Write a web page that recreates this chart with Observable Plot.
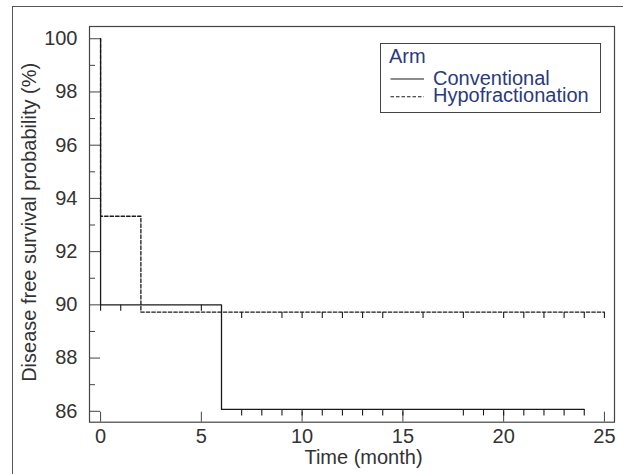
<!DOCTYPE html>
<html><head><meta charset="utf-8">
<script src="https://cdn.jsdelivr.net/npm/d3@7"></script>
<script src="https://cdn.jsdelivr.net/npm/@observablehq/plot@0.6"></script>
<style>
html,body{margin:0;padding:0;background:#fff;}
#wrap{position:relative;width:623px;height:474px;overflow:hidden;background:#fff;}
#chart{position:absolute;left:0;top:0;}
#outer{position:absolute;left:12px;top:6px;width:700px;height:600px;border-left:1px solid #555;border-top:1px solid #555;box-sizing:border-box;pointer-events:none;}
</style></head><body>
<div id="wrap"><div id="chart"></div><div id="outer"></div></div>
<script>
// ---- data ----
const seriesNames = ["Conventional", "Hypofractionation"];
const legendTitle = "Arm";
const xLabel = "Time (month)";
const yLabel = "Disease free survival probability (%)";
const xTicks = [0, 5, 10, 15, 20, 25];
const yMajorTicks = [86, 88, 90, 92, 94, 96, 98, 100];
const yMinorTicks = [87, 89, 91, 93, 95, 97, 99];

const convTimes = [0, 0, 6, 24];
const convSurv = [100, 90, 86.07, 86.07];
const convCensorTimes = [0, 1, 5, 7, 8, 9, 10, 11, 12, 13, 14, 15, 18, 19, 20, 21, 22, 23, 24];

const hypoTimes = [0, 0, 2, 25];
const hypoSurv = [100, 93.33, 89.73, 89.73];
const hypoCensorTimes = [7, 9, 10, 11, 12, 13, 14, 16, 18, 20, 21, 22, 23, 24, 25];

// ---- build tables ----
function curve(times, surv, arm) { return times.map((t, i) => ({t, s: surv[i], arm})); }
function survAt(times, surv, t) { let s = surv[0]; times.forEach((tt, i) => { if (tt <= t) s = surv[i]; }); return s; }
const convData = curve(convTimes, convSurv, seriesNames[0]);
const hypoData = curve(hypoTimes, hypoSurv, seriesNames[1]);
const censors = [
  ...convCensorTimes.map(t => ({t, s: survAt(convTimes, convSurv, t)})),
  ...hypoCensorTimes.map(t => ({t, s: survAt(hypoTimes, hypoSurv, t)}))
];

const W = 623, H = 474, mL = 89, mR = 9, mT = 26, mB = 52.3;
const plotW = W - mL - mR, plotH = H - mT - mB;
const ink = "#1a1a1a", axisInk = "#444", textInk = "#333";
const dash = "3.5,2";
const censorSymbol = {draw(ctx) { ctx.moveTo(0, 0); ctx.lineTo(0, 6); }};
const fontFam = "'Liberation Sans', Arial, sans-serif";

const chart = Plot.plot({
  width: W, height: H,
  marginLeft: mL, marginRight: mR, marginTop: mT, marginBottom: mB,
  x: {domain: [-0.55, 25.5]},
  y: {domain: [85.59, 100.46]},
  style: {fontFamily: fontFam, fontSize: "20px", color: textInk, background: "transparent"},
  marks: [
    Plot.tickY(yMajorTicks, {y: d => d, insetRight: plotW - 11, stroke: axisInk}),
    Plot.tickY(yMinorTicks, {y: d => d, insetRight: plotW - 6, stroke: axisInk}),
    Plot.tickX(xTicks, {x: d => d, insetTop: plotH - 10, stroke: axisInk}),
    Plot.axisY({ticks: yMajorTicks, tickSize: 0, tickPadding: 12, label: null, fill: textInk}),
    Plot.axisX({ticks: xTicks, tickSize: 0, tickPadding: 7, label: null, fill: textInk}),
    Plot.text([yLabel], {text: d => d, frameAnchor: "left", rotate: -90, textAnchor: "middle", lineAnchor: "middle", dx: -60, dy: -2, fill: textInk}),
    Plot.text([xLabel], {text: d => d, frameAnchor: "bottom", textAnchor: "middle", lineAnchor: "middle", dx: 11.5, dy: 35.5, fill: textInk}),
    Plot.line(hypoData, {x: "t", y: "s", curve: "step-after", stroke: ink, strokeWidth: 1.3, strokeDasharray: dash}),
    Plot.line(convData, {x: "t", y: "s", curve: "step-after", stroke: ink, strokeWidth: 1.3}),
    Plot.dot(censors, {x: "t", y: "s", symbol: censorSymbol, stroke: ink, fill: "none", strokeWidth: 1.1}),
    Plot.frame({stroke: axisInk, strokeWidth: 1.2})
  ]
});
document.getElementById("chart").appendChild(chart);

// ---- legend (inside plot, top right) ----
const svg = d3.select(chart);
const lg = svg.append("g").attr("font-size", 20).attr("font-family", fontFam).attr("text-anchor", "start");
lg.append("rect").attr("x", 380.5).attr("y", 43.5).attr("width", 220).attr("height", 69)
  .attr("fill", "white").attr("stroke", axisInk).attr("stroke-width", 1);
const navy = "#2a3a80";
lg.append("text").attr("x", 389).attr("y", 63).attr("fill", navy).text(legendTitle);
seriesNames.forEach((name, i) => {
  const y = 79 + i * 17.7;
  lg.append("line").attr("x1", 390.5).attr("x2", 424).attr("y1", y).attr("y2", y)
    .attr("stroke", ink).attr("stroke-width", 1.1).attr("stroke-dasharray", i === 1 ? dash : null);
  lg.append("text").attr("x", 433).attr("y", y + 5.5).attr("fill", navy).text(name);
});
</script>
</body></html>
